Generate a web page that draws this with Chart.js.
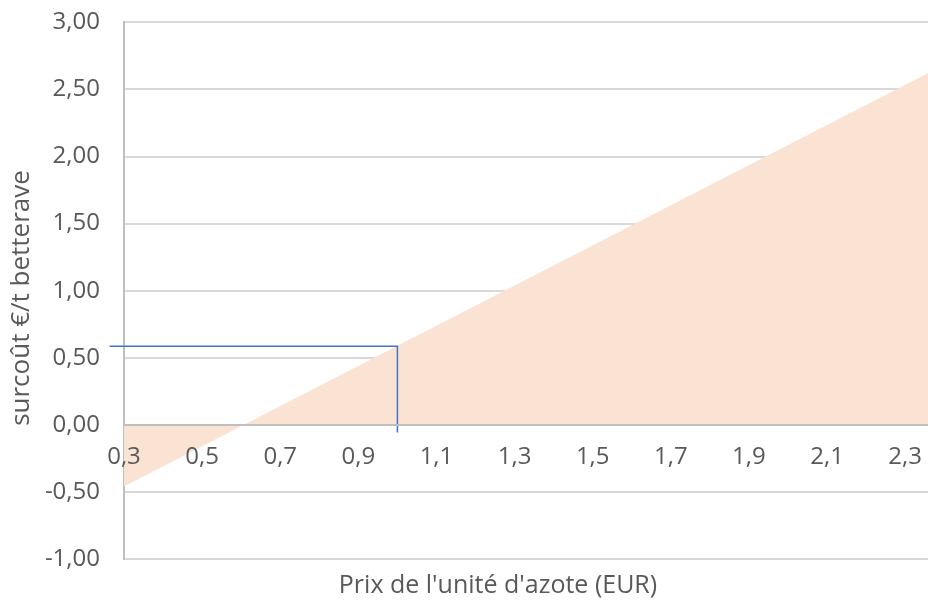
<!DOCTYPE html>
<html>
<head>
<meta charset="utf-8">
<script src="https://cdn.jsdelivr.net/npm/chart.js@4.4.1/dist/chart.umd.min.js"></script>
<style>
  html, body { margin: 0; padding: 0; background: #fff; }
  #wrap { width: 928px; height: 601px; overflow: hidden; position: relative; }
  #graphique { position: absolute; left: 0; top: -16px; }
</style>
</head>
<body>
<div id="wrap"><canvas id="graphique" width="940" height="617"></canvas></div>
<script>
// prix de l'azote (EUR) et surcoût (€/t betterave)
const prixAzote = [0.3, 1.0, 2.364];
const surcout = [-0.46, 0.59, 2.63];

// repère bleu : prix 1,0 -> surcoût 0,59
const repereX = [0.263, 1.0, 1.0];
const repereY = [0.585, 0.585, -0.057];

const ticksX = [0.3, 0.5, 0.7, 0.9, 1.1, 1.3, 1.5, 1.7, 1.9, 2.1, 2.3];

const titreX = "Prix de l'unité d'azote (EUR)";
const titreY = "surcoût €/t betterave";

const police = "'Open Sans', 'Segoe UI', sans-serif";
const gris = "#595959";

const titresAxes = {
    id: "titresAxes",
    afterDraw(chart) {
        const ctx = chart.ctx;
        ctx.save();
        ctx.fillStyle = gris;
        ctx.textAlign = "center";
        ctx.textBaseline = "middle";
        ctx.font = "25px " + police;
        ctx.fillText(titreX, 498, 602);
        ctx.translate(22, 314);
        ctx.rotate(-Math.PI / 2);
        ctx.font = "26px " + police;
        ctx.fillText(titreY, 0, 0);
        ctx.restore();
    }
};

new Chart(document.getElementById("graphique"), {
    type: "line",
    data: {
        datasets: [
            {
                label: "repère",
                data: repereX.map((x, i) => ({ x, y: repereY[i] })),
                borderColor: "#4472C4",
                borderWidth: 1.5,
                pointRadius: 0,
                fill: false,
                clip: false,
                order: 0
            },
            {
                label: "surcoût",
                data: prixAzote.map((x, i) => ({ x, y: surcout[i] })),
                borderWidth: 0,
                borderColor: "rgba(0,0,0,0)",
                backgroundColor: "#FBE3D4",
                pointRadius: 0,
                fill: "origin",
                order: 1
            }
        ]
    },
    options: {
        responsive: false,
        animation: false,
        layout: { padding: { left: 0, right: -10, top: -8, bottom: 42 } },
        plugins: {
            legend: { display: false },
            tooltip: { enabled: false }
        },
        scales: {
            x: {
                type: "linear",
                position: { y: 0 },
                min: 0.3,
                max: 2.364,
                afterBuildTicks: (scale) => {
                    scale.ticks = ticksX.map(v => ({ value: v }));
                },
                grid: { display: false, drawTicks: false },
                border: { display: true, color: "#BFBFBF", width: 2, z: 1 },
                ticks: {
                    z: 1,
                    padding: 18,
                    maxRotation: 0,
                    autoSkip: false,
                    color: gris,
                    font: { family: police, size: 24 },
                    callback: v => v.toFixed(1).replace(".", ",")
                }
            },
            y: {
                min: -1,
                max: 3,
                afterFit: (scale) => { scale.width = 124; },
                grid: { color: "#D9D9D9", lineWidth: 2, drawTicks: false },
                border: { display: true, color: "#BFBFBF", width: 2 },
                ticks: {
                    stepSize: 0.5,
                    padding: 24,
                    color: gris,
                    font: { family: police, size: 24 },
                    callback: v => v.toFixed(2).replace(".", ",")
                }
            }
        }
    },
    plugins: [titresAxes]
});
</script>
</body>
</html>
